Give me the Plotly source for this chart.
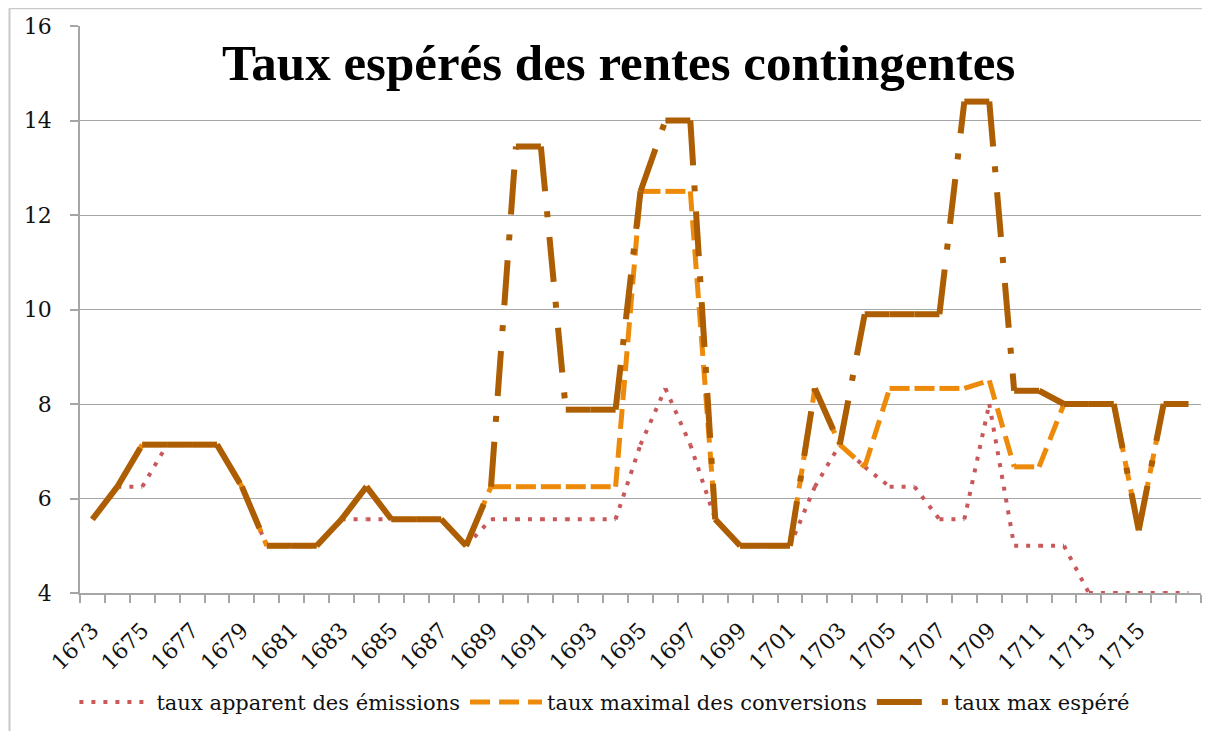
import plotly.graph_objects as go

years = list(range(1673, 1718))

taux_apparent = [5.56, 6.25, 6.25, 7.14, 7.14, 7.14, 6.25, 5.0, 5.0, 5.0,
                 5.56, 5.56, 5.56, 5.56, 5.56, 5.0, 5.56, 5.56, 5.56, 5.56,
                 5.56, 5.56, 7.14, 8.33, 7.14, 5.56, 5.0, 5.0, 5.0, 6.25,
                 7.14, 6.67, 6.25, 6.25, 5.56, 5.56, 8.0, 5.0, 5.0, 5.0,
                 4.0, 4.0, 4.0, 4.0, 4.0]

taux_conversions = [5.56, 6.25, 7.14, 7.14, 7.14, 7.14, 6.25, 5.0, 5.0, 5.0,
                    5.56, 6.25, 5.56, 5.56, 5.56, 5.0, 6.25, 6.25, 6.25, 6.25,
                    6.25, 6.25, 12.5, 12.5, 12.5, 5.56, 5.0, 5.0, 5.0, 8.33,
                    7.14, 6.67, 8.33, 8.33, 8.33, 8.33, 8.5, 6.67, 6.67, 8.0,
                    8.0, 8.0, 5.33, 8.0, 8.0]

taux_max_espere = [5.56, 6.25, 7.14, 7.14, 7.14, 7.14, 6.25, 5.0, 5.0, 5.0,
                   5.56, 6.25, 5.56, 5.56, 5.56, 5.0, 6.25, 13.45, 13.45, 7.88,
                   7.88, 7.88, 12.5, 14.0, 14.0, 5.56, 5.0, 5.0, 5.0, 8.33,
                   7.14, 9.9, 9.9, 9.9, 9.9, 14.4, 14.4, 8.28, 8.28, 8.0,
                   8.0, 8.0, 5.33, 8.0, 8.0]

tick_years = list(range(1673, 1716, 2))
tick_labels = [str(y) for y in tick_years]

series = [
    ("taux apparent des émissions", taux_apparent, "#C8585A", 4, "4px,8px"),
    ("taux maximal des conversions", taux_conversions, "#EE8A0A", 5, "20px,9px"),
    ("taux max espéré", taux_max_espere, "#AD5E02", 6, "45px,20px,6px,20px"),
]

fig = go.Figure()
for name, vals, color, width, dash in series:
    for i in range(len(years) - 1):
        fig.add_trace(go.Scatter(
            x=years[i:i + 2], y=vals[i:i + 2], mode="lines",
            line=dict(color=color, width=width, dash=dash),
            name=name, legendgroup=name, showlegend=(i == 0),
            hoverinfo="skip"))

axis_color = "#A6A6A6"
tick_font = dict(family="DejaVu Serif", size=22, color="#111111")

fig.update_layout(
    width=1202, height=723,
    margin=dict(l=72, r=9, t=18, b=138, autoexpand=False),
    paper_bgcolor="white", plot_bgcolor="white",
    showlegend=True,
    legend=dict(orientation="h", x=-0.005, xanchor="left", y=-0.193, yanchor="middle",
                font=dict(family="DejaVu Serif", size=21, color="#111111"),
                itemwidth=72, bgcolor="rgba(0,0,0,0)"),
    xaxis=dict(range=[years[0] - 0.5, years[-1] + 0.5], automargin=False,
               tickmode="array", tickvals=tick_years, ticktext=tick_labels,
               tickangle=-45, ticks="", tickfont=tick_font,
               ticklabelstandoff=14,
               showgrid=False, zeroline=False,
               showline=True, linecolor=axis_color, linewidth=1.5,
               minor=dict(tickmode="array",
                          tickvals=[y - 0.5 for y in years] + [years[-1] + 0.5],
                          ticks="outside", ticklen=8, tickcolor=axis_color,
                          tickwidth=1.5, showgrid=False)),
    yaxis=dict(range=[4, 16], tickmode="linear", tick0=4, dtick=2, automargin=False,
               ticks="outside", ticklen=8, tickcolor=axis_color, tickwidth=1.5,
               tickfont=tick_font, ticklabelstandoff=14,
               showgrid=True, gridcolor=axis_color, gridwidth=1.2,
               zeroline=False, showline=True, linecolor=axis_color, linewidth=1.5),
    annotations=[dict(text="<b>Taux espérés des rentes contingentes</b>",
                      xref="paper", yref="paper", x=0.4807, y=0.934,
                      xanchor="center", yanchor="middle", showarrow=False,
                      font=dict(family="Liberation Serif", size=51, color="black"))],
    shapes=[
        dict(type="line", xref="paper", yref="paper", x0=-0.0629, x1=1.02,
             y0=1.0312, y1=1.0312, line=dict(color="#C8C8C8", width=2)),
        dict(type="line", xref="paper", yref="paper", x0=-0.0629, x1=-0.0629,
             y0=1.0312, y1=-0.25, line=dict(color="#C8C8C8", width=2)),
    ],
)

fig.write_html("out.html")
